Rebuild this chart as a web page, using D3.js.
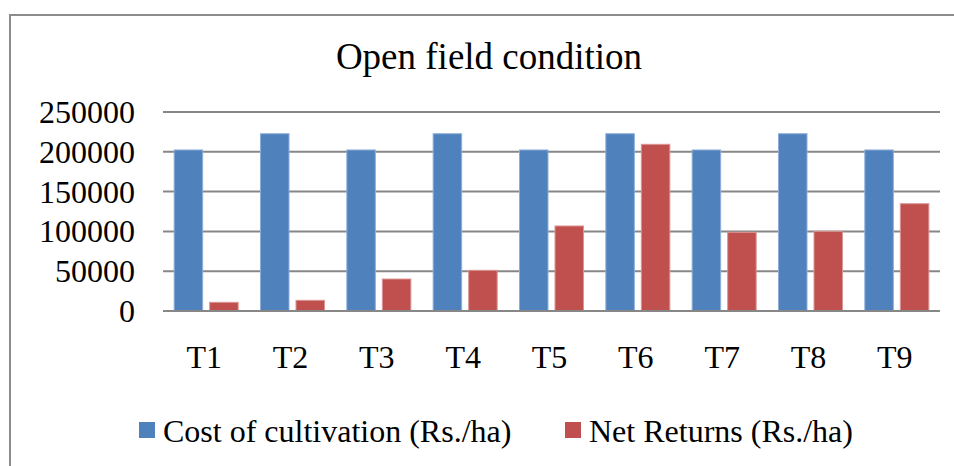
<!DOCTYPE html>
<html>
<head>
<meta charset="utf-8">
<script src="https://cdn.jsdelivr.net/npm/d3@7"></script>
<style>
    body { margin: 0; background: #fff; }
    text { font-family: "Liberation Serif", "Times New Roman", serif; fill: #000; }
</style>
</head>
<body>
<div class="chart"></div>
<script>
// data
const treatments = ["T1", "T2", "T3", "T4", "T5", "T6", "T7", "T8", "T9"];
const costOfCultivation = [202300, 222700, 202300, 222700, 202300, 222700, 202300, 222700, 202300];
const netReturns = [10900, 13400, 40200, 51100, 106800, 209400, 98900, 100100, 134800];
const seriesNames = ["Cost of cultivation (Rs./ha)", "Net Returns (Rs./ha)"];
const yTicks = [0, 50000, 100000, 150000, 200000, 250000];

const colors = ["#4F81BD", "#C0504D"];
const edges = ["#8EAFD9", "#DA9694"];

// plot area
const margin = {top: 112, right: 14, bottom: 155, left: 163};
let width = 954 - margin.left - margin.right;
let height = 466 - margin.top - margin.bottom;

let svg = d3.select(".chart")
    .append("svg")
    .attr("width", 954)
    .attr("height", 466);

// outer frame (only left and top edges visible)
svg.append("path")
    .attr("d", "M10,466 V15 H954")
    .attr("fill", "none")
    .attr("stroke", "#8c8c8c")
    .attr("stroke-width", 2);

let g = svg.append("g")
    .attr("transform", "translate(" + margin.left + "," + margin.top + ")");

// scales
let xScale = d3.scaleBand()
    .domain(treatments)
    .range([0, width]);

let xSub = d3.scaleBand()
    .domain([0, 1])
    .range([0, xScale.bandwidth()])
    .paddingInner(0.197)
    .paddingOuter(0.314);

let yScale = d3.scaleLinear()
    .domain([0, 250000])
    .range([height, 0]);

// gridlines
g.selectAll(".grid")
    .data(yTicks)
    .enter()
    .append("line")
    .attr("class", "grid")
    .attr("x1", 0)
    .attr("x2", width)
    .attr("y1", d => yScale(d))
    .attr("y2", d => yScale(d))
    .attr("stroke", "#878787")
    .attr("stroke-width", 2);

// y tick labels
g.selectAll(".ylab")
    .data(yTicks)
    .enter()
    .append("text")
    .attr("class", "ylab")
    .attr("x", -28)
    .attr("y", d => yScale(d) + 11)
    .attr("text-anchor", "end")
    .attr("font-size", 32)
    .text(d => d);

// bars
let rows = treatments.map((t, i) => ({t: t, vals: [costOfCultivation[i], netReturns[i]]}));

let groups = g.selectAll(".cat")
    .data(rows)
    .enter()
    .append("g")
    .attr("transform", d => "translate(" + xScale(d.t) + ",0)");

groups.selectAll("rect")
    .data(d => d.vals.map((v, k) => ({k: k, v: v})))
    .enter()
    .append("rect")
    .attr("x", d => xSub(d.k))
    .attr("width", xSub.bandwidth())
    .attr("y", d => yScale(d.v))
    .attr("height", d => height - yScale(d.v))
    .attr("fill", d => colors[d.k])
    .attr("stroke", d => edges[d.k])
    .attr("stroke-width", 1);

// baseline drawn over the bars
g.append("line")
    .attr("x1", 0)
    .attr("x2", width)
    .attr("y1", height)
    .attr("y2", height)
    .attr("stroke", "#878787")
    .attr("stroke-width", 2);

// x axis labels
g.selectAll(".xlab")
    .data(treatments)
    .enter()
    .append("text")
    .attr("class", "xlab")
    .attr("x", d => xScale(d) + xScale.bandwidth() / 2 - 2)
    .attr("y", height + 57)
    .attr("text-anchor", "middle")
    .attr("font-size", 32)
    .text(d => d);

// title
svg.append("text")
    .attr("x", 489)
    .attr("y", 69)
    .attr("text-anchor", "middle")
    .attr("font-size", 37)
    .text("Open field condition");

// legend
const legendX = [139, 565];
let legend = svg.selectAll(".legend")
    .data(seriesNames)
    .enter()
    .append("g")
    .attr("transform", (d, i) => "translate(" + legendX[i] + ",422)");

legend.append("rect")
    .attr("width", 16)
    .attr("height", 16)
    .attr("fill", (d, i) => colors[i]);

legend.append("text")
    .attr("x", 24)
    .attr("y", 20)
    .attr("font-size", 32)
    .text(d => d);
</script>
</body>
</html>
